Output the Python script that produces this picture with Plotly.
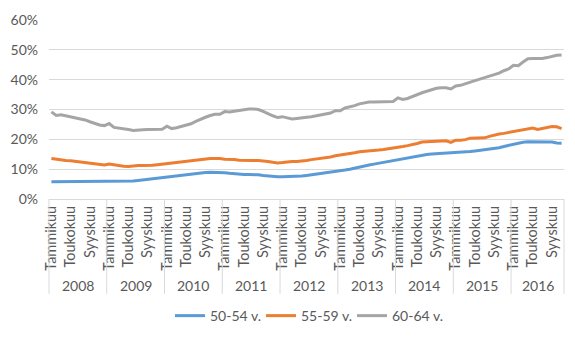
import plotly.graph_objects as go

years = ["2008", "2009", "2010", "2011", "2012", "2013", "2014", "2015", "2016"]
month_labels = {0: "Tammikuu", 4: "Toukokuu", 8: "Syyskuu"}
series_names = ["50-54 v.", "55-59 v.", "60-64 v."]
colors = ["#5B9BD5", "#ED7D31", "#A5A5A5"]

s50_54 = [
    5.8, 5.8, 5.8, 5.8, 5.8, 5.8, 5.8, 5.8, 5.8, 5.8, 5.8, 5.8,
    5.8, 5.8, 5.8, 5.8, 5.9, 6.0, 6.2, 6.4, 6.6, 6.7, 6.9, 7.1,
    7.4, 7.6, 7.8, 8.0, 8.2, 8.4, 8.7, 8.8, 8.9, 9.0, 9.0, 8.9,
    8.8, 8.6, 8.4, 8.3, 8.2, 8.2, 8.2, 8.1, 7.9, 7.7, 7.5, 7.5,
    7.5, 7.5, 7.5, 7.6, 7.7, 7.9, 8.1, 8.3, 8.5, 8.7, 8.9, 9.1,
    9.4, 9.7, 10.0, 10.4, 10.8, 11.1, 11.4, 11.7, 12.0, 12.3, 12.6, 12.9,
    13.2, 13.5, 13.8, 14.2, 14.5, 14.8, 14.9, 15.1, 15.2, 15.3, 15.3, 15.3,
    15.4, 15.6, 15.8, 15.9, 16.1, 16.3, 16.4, 16.6, 16.9, 17.2, 17.6, 18.0,
    18.3, 18.7, 19.0, 19.2, 19.2, 19.2, 19.2, 19.2, 19.1, 18.8, 18.7,
]
s55_59 = [
    13.6, 13.3, 13.0, 12.9, 12.8, 12.6, 12.5, 12.3, 12.1, 11.8, 11.6, 11.4,
    11.7, 11.4, 11.2, 11.0, 10.9, 11.1, 11.2, 11.2, 11.2, 11.3, 11.5, 11.7,
    11.8, 12.0, 12.3, 12.5, 12.6, 12.9, 13.1, 13.4, 13.6, 13.6, 13.6, 13.6,
    13.3, 13.3, 13.2, 13.0, 12.9, 12.9, 12.9, 12.9, 12.8, 12.6, 12.3, 12.1,
    12.2, 12.5, 12.6, 12.6, 12.7, 12.9, 13.2, 13.4, 13.6, 13.9, 14.1, 14.5,
    14.7, 14.9, 15.2, 15.5, 15.8, 15.9, 16.0, 16.2, 16.4, 16.6, 16.8, 17.0,
    17.3, 17.6, 17.9, 18.2, 18.6, 19.1, 19.2, 19.4, 19.5, 19.5, 19.5, 19.0,
    19.7, 19.7, 19.9, 20.4, 20.4, 20.4, 20.5, 21.0, 21.5, 21.8, 22.0, 22.3,
    22.6, 22.8, 23.1, 23.5, 23.8, 23.3, 23.6, 24.0, 24.3, 24.2, 23.6,
]
s60_64 = [
    29.2, 28.0, 28.2, 27.9, 27.6, 27.3, 27.0, 26.5, 25.9, 25.4, 24.8, 24.6,
    25.3, 24.0, 23.8, 23.7, 23.3, 23.0, 23.0, 23.2, 23.3, 23.3, 23.5, 23.4,
    24.4, 23.6, 23.9, 24.4, 24.8, 25.2, 26.0, 26.8, 27.4, 28.0, 28.4, 28.4,
    29.3, 29.2, 29.5, 29.7, 30.0, 30.2, 30.2, 30.0, 29.4, 28.6, 27.9, 27.3,
    27.6, 27.2, 26.8, 27.0, 27.3, 27.4, 27.6, 27.9, 28.2, 28.4, 28.8, 29.6,
    29.6, 30.5, 30.8, 31.3, 31.9, 32.3, 32.5, 32.5, 32.5, 32.5, 32.5, 32.7,
    33.9, 33.4, 33.7, 34.4, 35.0, 35.6, 36.1, 36.7, 37.1, 37.3, 37.3, 36.9,
    37.9, 38.1, 38.7, 39.3, 39.7, 40.2, 40.7, 41.2, 41.6, 42.2, 43.0, 43.6,
    44.8, 44.7, 45.9, 47.0, 47.1, 47.1, 47.1, 47.4, 47.9, 48.2, 48.3,
]
all_series = [s50_54, s55_59, s60_64]

n = len(s50_54)
xs = list(range(n))
FONT = "Lato"
TXT = "#595959"
GRID = "#D9D9D9"

fig = go.Figure()
for name, vals, col in zip(series_names, all_series, colors):
    fig.add_trace(go.Scatter(x=xs, y=vals, mode="lines", name=name,
                             line=dict(color=col, width=3)))

tickvals, ticktext = [], []
for i in range(n):
    m = i % 12
    if m in month_labels:
        tickvals.append(i)
        ticktext.append(month_labels[m])

shapes = []
annotations = []
total = n
def px(v):
    return (v + 0.5) / total

bounds = [12 * k for k in range(len(years))] + [n]
for b in bounds:
    xp = px(b - 0.5)
    shapes.append(dict(type="line", xref="paper", yref="paper",
                       x0=xp, x1=xp, y0=0, y1=-0.53,
                       line=dict(color=GRID, width=1)))
for k, yr in enumerate(years):
    start = 12 * k
    end = min(12 * (k + 1), n)
    cx = px((start + end - 1) / 2)
    annotations.append(dict(text=yr, xref="paper", yref="paper", x=cx, y=-0.481,
                            showarrow=False, font=dict(family=FONT, size=14, color=TXT),
                            xanchor="center", yanchor="middle"))

fig.update_layout(
    width=575, height=338,
    margin=dict(l=48, r=11, t=14, b=139),
    paper_bgcolor="white", plot_bgcolor="white",
    font=dict(family=FONT, size=13, color=TXT),
    shapes=shapes, annotations=annotations,
    showlegend=True,
    legend=dict(orientation="h", x=0.5, xanchor="center", yref="container",
                y=0.065, yanchor="middle", font=dict(family=FONT, size=14, color=TXT),
                itemwidth=30, entrywidth=46, entrywidthmode="pixels", tracegroupgap=0),
    xaxis=dict(range=[-0.5, n - 0.5], tickmode="array", tickvals=tickvals,
               ticktext=ticktext, tickangle=-90, showgrid=False, zeroline=False,
               showline=True, linecolor=GRID, linewidth=1, ticks="",
               tickfont=dict(family=FONT, size=14.5, color=TXT)),
    yaxis=dict(range=[0, 60], dtick=10, ticksuffix="%", showgrid=True,
               gridcolor=GRID, gridwidth=1, zeroline=False, showline=False,
               ticks="", ticklabelstandoff=10,
               tickfont=dict(family=FONT, size=14, color=TXT)),
)

fig.write_html("out.html")
